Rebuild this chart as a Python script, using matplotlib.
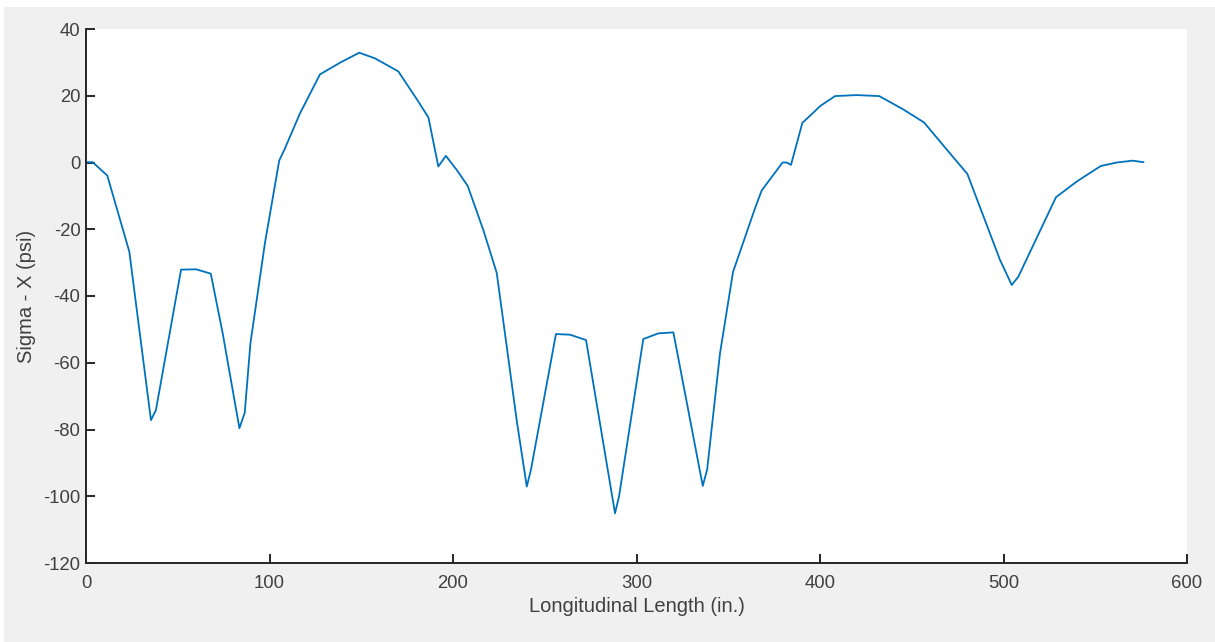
import matplotlib as mpl
mpl.use('Agg')
import matplotlib.pyplot as plt
from matplotlib.patches import Rectangle

# values
length_in = [0, 3.6, 11.6, 23.6, 35.4, 38.1, 51.8, 60, 68, 74.5, 83.6, 86.5, 89.6,
             97.5, 105.3, 108, 116.6, 127.5, 138.4, 148.9, 157.5, 170.2, 180.6,
             186.6, 192, 196.1, 202, 208, 216.5, 223.8, 229.3, 234.7, 240.2, 242.5,
             256.1, 263.8, 272.5, 288.3, 290.5, 303.7, 311.9, 320.1, 336.1, 338.5,
             345.5, 352.6, 364.6, 368.2, 379.6, 381.8, 384.2, 390.4, 393.6, 400.3,
             408.2, 420, 432.3, 445.4, 456.7, 470.8, 480.3, 498.1, 504.5, 508.1,
             528.6, 539.9, 553, 561.7, 570.4, 576.2]
sigma_x = [0.1, 0.1, -3.9, -26.7, -77.2, -74.2, -32.1, -32.0, -33.3, -51.2, -79.6, -75,
           -54.2, -24.2, 0.6, 3.7, 14.7, 26.4, 29.9, 32.9, 31.2, 27.3, 18.7, 13.5,
           -1.2, 2.0, -2.2, -7.0, -20.2, -33.0, -55.2, -77.2, -97.1, -92, -51.4,
           -51.6, -53.2, -105.1, -100, -52.9, -51.2, -50.9, -96.9, -92, -57.2, -32.8,
           -13.7, -8.4, 0, 0, -0.7, 11.9, 13.5, 17.0, 19.9, 20.2, 19.9, 15.9, 12.0,
           2.75, -3.4, -29.2, -36.7, -34.2, -10.4, -5.7, -1.05, 0, 0.55, 0.1]

x_ticks = [0, 100, 200, 300, 400, 500, 600]
y_ticks = [-120, -100, -80, -60, -40, -20, 0, 20, 40]

plt.rcParams['font.family'] = ['Liberation Sans', 'DejaVu Sans']
plt.rcParams['axes.unicode_minus'] = False
axis_color = '#262626'
text_color = '#404040'

fig = plt.figure(figsize=(12.15, 6.42), dpi=100, facecolor='white')
fig.patches.append(Rectangle((4 / 1215, 0), 1, 1 - 7 / 642, transform=fig.transFigure,
                             facecolor='#f0f0f0', edgecolor='none', zorder=-10))
ax = fig.add_axes([86 / 1215, (642 - 563) / 642, (1187 - 86) / 1215, (563 - 29) / 642])
ax.set_facecolor('white')

ax.plot(length_in, sigma_x, color='#0072BD', lw=1.3)

ax.set_xlim(0, 600)
ax.set_ylim(-120, 40)
ax.set_xticks(x_ticks)
ax.set_yticks(y_ticks)

for side in ['top', 'right']:
    ax.spines[side].set_visible(False)
for side in ['left', 'bottom']:
    ax.spines[side].set_color(axis_color)
    ax.spines[side].set_linewidth(1.4)

ax.tick_params(direction='in', length=6.5, width=1.4, color=axis_color,
               labelcolor=text_color, labelsize=13.3, pad=4)
ax.tick_params(axis='x', pad=9)

ax.set_xlabel('Longitudinal Length (in.)', fontsize=14.5, color=text_color, labelpad=3)
ax.set_ylabel('Sigma - X (psi)', fontsize=14.5, color=text_color, labelpad=5)

fig.savefig('out.png', dpi=100, facecolor=fig.get_facecolor())
